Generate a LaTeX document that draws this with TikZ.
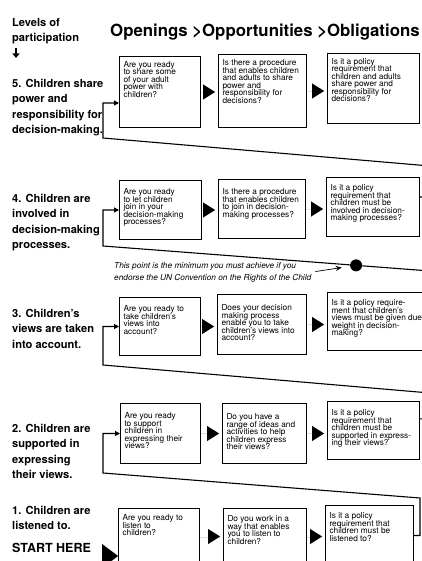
\documentclass[tikz,border=0pt]{standalone}
\usepackage{fontspec}
\setmainfont{TeX Gyre Heros}
\usetikzlibrary{arrows.meta,positioning}

\newcommand{\qfont}{\fontsize{8.3}{7.5}\selectfont\lineskiplimit=-5pt\lineskip=0pt}
\newcommand{\lvlfont}{\fontsize{11.1}{15.5}\selectfont\bfseries}
% question text: [top gap]{box width}{box height}{lines}
\newcommand{\qtxt}[4][7.5pt]{\vbox to #3{\hrule height0pt width\dimexpr#2-8pt\relax
  \vskip#1\relax\let\\\cr\halign{##\hfil\cr#4\crcr}\vfil}}

\begin{document}
\begin{tikzpicture}[x=1pt,y=-1pt,
    qbox/.style={draw, line width=1pt, anchor=north west, inner xsep=4pt, inner ysep=0pt, font=\qfont},
    lvl/.style={anchor=north west, inner sep=0pt, align=left, font=\lvlfont},
    tri/.style={line width=0.01pt, -{Triangle[length=12pt,width=15pt]}, shorten >=3pt},
    link/.style={line width=1.1pt, -{Triangle[length=5pt,width=5pt]}},
    dot/.style={circle, fill, inner sep=0pt, minimum size=12pt}]
  \useasboundingbox (0,0) rectangle (422,561);

  \node[anchor=base west, inner sep=0pt, font=\fontsize{16.8}{16.8}\selectfont\bfseries] (title) at (110,37)
    {Openings >Opportunities >Obligations};
  \node[lvl] (levels) at (12,18) {Levels of\\participation};
  \coordinate (down1) at (16,48);
  \coordinate (down2) at (16,58);
  \draw[line width=1.8pt, -{Triangle[length=4.5pt,width=7pt]}] (down1) -- (down2);

  % levels
  \node[lvl] (lev5) at (12,79) {5. Children share\\power and\\responsibility for\\decision-making.};
  \node[lvl] (lev4) at (12,194) {4. Children are\\involved in\\decision-making\\processes.};
  \node[lvl] (lev3) at (12,309) {3. Children's\\views are taken\\into account.};
  \node[lvl] (lev2) at (12,424) {2. Children are\\supported in\\expressing\\their views.};
  \node[lvl] (lev1) at (12,506) {1. Children are\\listened to.};
  \node[anchor=base west, inner sep=0pt, font=\fontsize{12.5}{12.5}\selectfont\bfseries] (start) at (12,552) {START HERE};

  % row 5
  \node[qbox] (q5a) at (119,56) {\qtxt[4.5pt]{81pt}{71pt}{Are you ready\\to share some\\of your adult\\power with\\children?}};
  \node[qbox] (q5b) at (218,54) {\qtxt[5pt]{88pt}{73pt}{Is there a procedure\\that enables children\\and adults to share\\power and\\responsibility for\\decisions?}};
  \node[qbox] (q5c) at (327,53) {\qtxt[4.5pt]{92pt}{70pt}{Is it a policy\\requirement that\\children and adults\\share power and\\responsibility for\\decisions?}};
  % row 4
  \node[qbox] (q4a) at (119,180) {\qtxt[8pt]{82pt}{59pt}{Are you ready\\to let children\\join in your\\decision-making\\processes?}};
  \node[qbox] (q4b) at (218,179) {\qtxt[9pt]{87pt}{59pt}{Is there a procedure\\that enables children\\to join in decision-\\making processes?}};
  \node[qbox] (q4c) at (326,177) {\qtxt[7pt]{93pt}{59pt}{Is it a policy\\requirement that\\children must be\\involved in decision-\\making processes?}};
  % row 3
  \node[qbox] (q3a) at (119,297) {\qtxt[8pt]{81pt}{58pt}{Are you ready to\\take children's\\views into\\account?}};
  \node[qbox] (q3b) at (217,294) {\qtxt[10pt]{89pt}{60pt}{Does your decision\\making process\\enable you to take\\children's views into\\account?}};
  \node[qbox] (q3c) at (327,292) {\qtxt[7pt]{95pt}{58pt}{Is it a policy require-\\ment that children's\\views must be given due\\weight in decision-\\making?}};
  % row 2
  \node[qbox] (q2a) at (120,403) {\qtxt[9pt]{80pt}{60pt}{Are you ready\\to support\\children in\\expressing their\\views?}};
  \node[qbox] (q2b) at (222,403) {\qtxt[10pt]{84pt}{60pt}{Do you have a\\range of ideas and\\activities to help\\children express\\their views?}};
  \node[qbox] (q2c) at (327,401) {\qtxt[8pt]{92pt}{58pt}{Is it a policy\\requirement that\\children must be\\supported in express-\\ing their views?}};
  % row 1
  \node[qbox] (q1a) at (118,508) {\qtxt[6pt]{81pt}{56pt}{Are you ready to\\listen to\\children?}};
  \node[qbox] (q1b) at (223,508) {\qtxt[7pt]{83pt}{56pt}{Do you work in a\\way that enables\\you to listen to\\children?}};
  \node[qbox] (q1c) at (325,505) {\qtxt[7pt]{88pt}{60pt}{Is it a policy\\requirement that\\children must be\\listened to?}};

  \foreach \r in {1,...,5} {
    \draw[tri] (q\r a.east) -- (q\r a.east -| q\r b.west);
    \draw[tri] (q\r b.east) -- (q\r b.east -| q\r c.west);
  }
  \coordinate (entry) at (102,556);
  \draw[line width=0.01pt, -{Triangle[length=16pt,width=24pt]}] (entry) -- (entry -| q1a.west);

  % climbing from one level to the next
  \coordinate (r1) at (420,498);
  \coordinate (l1) at (103,473);
  \coordinate (r2) at (430,393);
  \coordinate (l2) at (103,365);
  \coordinate (r3) at (430,271);
  \coordinate (l3) at (103,246);
  \coordinate (r4) at (430,166);
  \coordinate (l4) at (103,138);
  \draw[link] (q1c.east) -| (r1) -- (l1) |- (q2a.west);
  \draw[link] (q2c.14) -| (r2) -- (l2) |- (q3a.west);
  \draw[link] (q3c.east) -| (r3) -- node[dot, pos=0.226] (minpt) {} (l3) |- (q4a.west);
  \draw[link] (q4c.12) -| (r4) -- (l4) |- (q5a.195);

  \node[anchor=north west, inner sep=0pt, align=left, font=\fontsize{8.3}{12}\selectfont\itshape] (note) at (114,262)
    {This point is the minimum you must achieve if you\\endorse the UN Convention on the Rights of the Child};
  \draw[-{Stealth[length=6pt,width=5pt]}, line width=0.7pt, shorten <=4pt, shorten >=8pt] (note.east) -- (minpt);
\end{tikzpicture}
\end{document}
